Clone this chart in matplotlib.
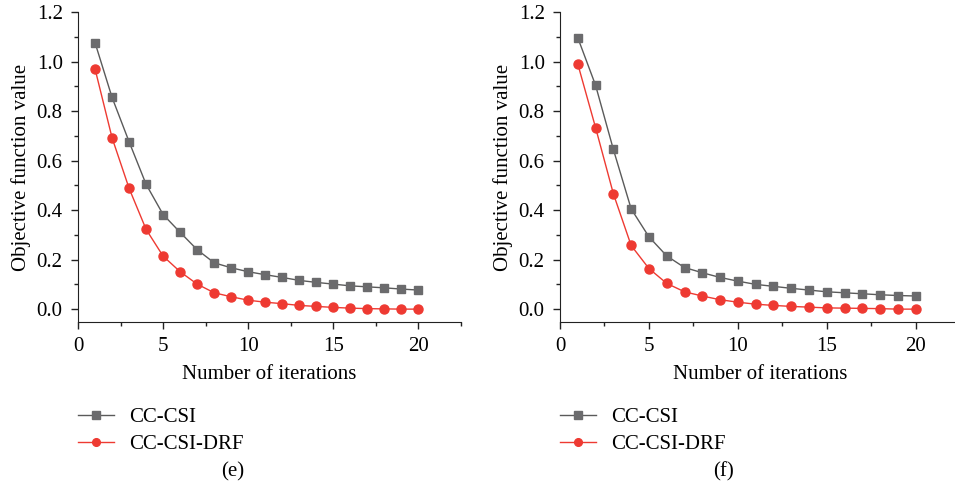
import matplotlib.pyplot as plt
from matplotlib.ticker import MultipleLocator

plt.rcParams["font.family"] = ["Liberation Serif", "DejaVu Serif"]

iters = list(range(1, 21))

# (e)
e_csi = [1.076, 0.855, 0.676, 0.504, 0.382, 0.310, 0.240, 0.187, 0.167, 0.151,
         0.139, 0.128, 0.116, 0.108, 0.101, 0.094, 0.090, 0.086, 0.081, 0.077]
e_drf = [0.970, 0.692, 0.488, 0.322, 0.214, 0.151, 0.101, 0.066, 0.050, 0.036,
         0.028, 0.022, 0.015, 0.011, 0.007, 0.004, 0.002, 0.001, 0.000, 0.000]

# (f)
f_csi = [1.096, 0.904, 0.645, 0.405, 0.292, 0.215, 0.168, 0.147, 0.128, 0.113,
         0.100, 0.092, 0.084, 0.077, 0.070, 0.066, 0.062, 0.058, 0.055, 0.053]
f_drf = [0.990, 0.733, 0.466, 0.257, 0.164, 0.104, 0.070, 0.053, 0.038, 0.028,
         0.020, 0.015, 0.011, 0.008, 0.005, 0.004, 0.003, 0.002, 0.000, 0.000]

yticks = [0.0, 0.2, 0.4, 0.6, 0.8, 1.0, 1.2]

GRAY = "#6b6b6d"
GRAY_LINE = "#5a5a5a"
RED = "#ee3a32"
FS = 15

fig = plt.figure(figsize=(9.55, 4.98), dpi=100)


def panel(rect, csi, drf, tag, leg_x, tag_x):
    ax = fig.add_axes(rect)
    ax.plot(iters, csi, color=GRAY_LINE, lw=1.0, marker="s", ms=6,
            mfc=GRAY, mec=GRAY, label="CC-CSI")
    ax.plot(iters, drf, color=RED, lw=1.0, marker="o", ms=6.5,
            mfc=RED, mec=RED, label="CC-CSI-DRF")
    ax.set_xlim(0, 22.5)
    ax.set_ylim(-0.052, 1.2)
    ax.spines["top"].set_visible(False)
    ax.spines["right"].set_visible(False)
    ax.xaxis.set_minor_locator(MultipleLocator(2.5))
    ax.yaxis.set_minor_locator(MultipleLocator(0.1))
    ax.set_xticks([0, 5, 10, 15, 20])
    ax.set_yticks(yticks)
    ax.set_yticklabels([f"{v:.1f}" for v in yticks])
    ax.tick_params(which="major", direction="out", length=5, width=1,
                   labelsize=FS, color="#222222", pad=6)
    ax.tick_params(which="minor", direction="out", length=3, width=1,
                   color="#222222")
    for s in ("left", "bottom"):
        ax.spines[s].set_color("#222222")
    ax.set_xlabel("Number of iterations", fontsize=FS, labelpad=6)
    ax.set_ylabel("Objective function value", fontsize=FS, labelpad=4)
    ax.legend(loc="upper left", bbox_to_anchor=(leg_x, 0.182),
              bbox_transform=fig.transFigure, frameon=False, fontsize=FS,
              handlelength=1.75, handletextpad=0.7, labelspacing=0.35,
              borderaxespad=0, borderpad=0, markerscale=0.85)
    fig.text(tag_x, 0.052, tag, fontsize=FS, ha="center", va="center")
    return ax


panel([0.0817, 0.3534, 0.401, 0.6225], e_csi, e_drf, "(e)", 0.0817, 0.244)
panel([0.5864, 0.3534, 0.419, 0.6225], f_csi, f_drf, "(f)", 0.5864, 0.758)

fig.savefig("out.png", dpi=100)
